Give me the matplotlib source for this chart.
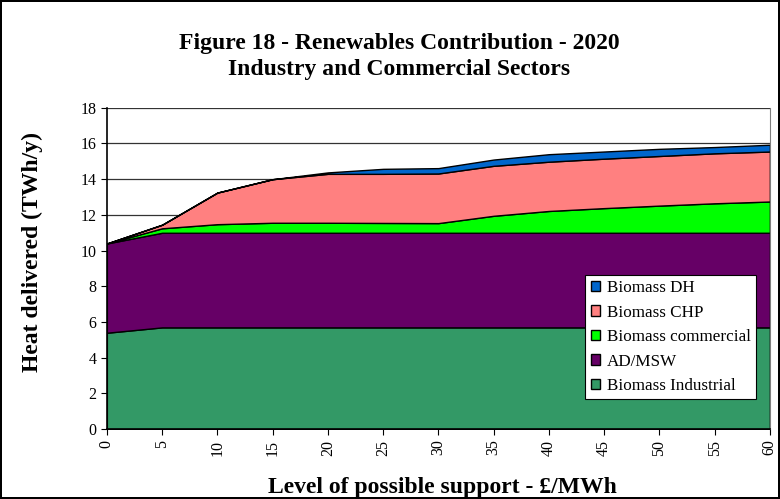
import numpy as np
import matplotlib.pyplot as plt

plt.rcParams['font.family'] = ['Liberation Serif', 'DejaVu Serif']

support = [0, 5, 10, 15, 20, 25, 30, 35, 40, 45, 50, 55, 60]
# cumulative tops, converted to layer sizes below
top_industrial = [5.4, 5.7, 5.7, 5.7, 5.7, 5.7, 5.7, 5.7, 5.7, 5.7, 5.7, 5.7, 5.7]
top_admsw = [10.4, 11.0, 11.0, 11.0, 11.0, 11.0, 11.0, 11.0, 11.0, 11.0, 11.0, 11.0, 11.0]
top_commercial = [10.4, 11.25, 11.48, 11.56, 11.56, 11.55, 11.54, 11.95, 12.22, 12.38, 12.52, 12.65, 12.75]
top_chp = [10.4, 11.45, 13.25, 14.0, 14.3, 14.3, 14.32, 14.75, 14.98, 15.15, 15.3, 15.45, 15.55]
top_dh = [10.4, 11.45, 13.25, 14.0, 14.38, 14.58, 14.62, 15.1, 15.4, 15.55, 15.7, 15.8, 15.93]

biomass_industrial = np.array(top_industrial)
ad_msw = np.array(top_admsw) - np.array(top_industrial)
biomass_commercial = np.array(top_commercial) - np.array(top_admsw)
biomass_chp = np.array(top_chp) - np.array(top_commercial)
biomass_dh = np.array(top_dh) - np.array(top_chp)

labels = ['Biomass Industrial', 'AD/MSW', 'Biomass commercial', 'Biomass CHP', 'Biomass DH']
colors = ['#339966', '#660066', '#00ff00', '#ff8080', '#0066cc']

fig = plt.figure(figsize=(7.8, 4.99), dpi=100)
fig.patch.set_edgecolor('black')
fig.patch.set_linewidth(1.5)
ax = fig.add_axes([0.137, 0.140, 0.850, 0.644])

for y in range(2, 19, 2):
    ax.axhline(y, color='#333333', lw=0.9, zorder=0)

ax.stackplot(support, biomass_industrial, ad_msw, biomass_commercial,
             biomass_chp, biomass_dh, labels=labels, colors=colors,
             edgecolor='black', linewidth=1.0, zorder=2)

ax.set_xlim(0, 60)
ax.set_ylim(0, 18)
ax.set_xticks(support)
ax.set_xticklabels([str(s) for s in support], rotation=90, fontsize=11.5)
ax.set_yticks(range(0, 19, 2))
ax.tick_params(axis='y', labelsize=11.5, length=4, direction='out')
ax.tick_params(axis='x', length=4, direction='out')
ax.spines['top'].set_visible(False)
ax.spines['right'].set_color('#808080')
ax.spines['left'].set_linewidth(1.2)
ax.spines['bottom'].set_linewidth(1.2)

fig.text(32 / 780, 1 - 252 / 499, 'Heat delivered (TWh/y)', rotation=90,
         ha='center', va='center', fontsize=17, fontweight='bold')
fig.text(442 / 780, 1 - 488 / 499, 'Level of possible support - £/MWh',
         ha='center', va='center', fontsize=17, fontweight='bold')
fig.text(0.512, 0.913, 'Figure 18 - Renewables Contribution - 2020',
         ha='center', va='center', fontsize=17, fontweight='bold')
fig.text(0.512, 0.860, 'Industry and Commercial Sectors',
         ha='center', va='center', fontsize=17, fontweight='bold')

handles, leg_labels = ax.get_legend_handles_labels()
leg = ax.legend(handles[::-1], leg_labels[::-1], loc='lower right',
                bbox_to_anchor=(0.979, 0.093), fontsize=12.3, frameon=True,
                fancybox=False, edgecolor='black', framealpha=1,
                handlelength=0.55, handleheight=0.55, handletextpad=0.4,
                labelspacing=0.5, borderpad=0.3, borderaxespad=0)
leg.get_frame().set_linewidth(0.8)

plt.savefig('out.png', dpi=100)
